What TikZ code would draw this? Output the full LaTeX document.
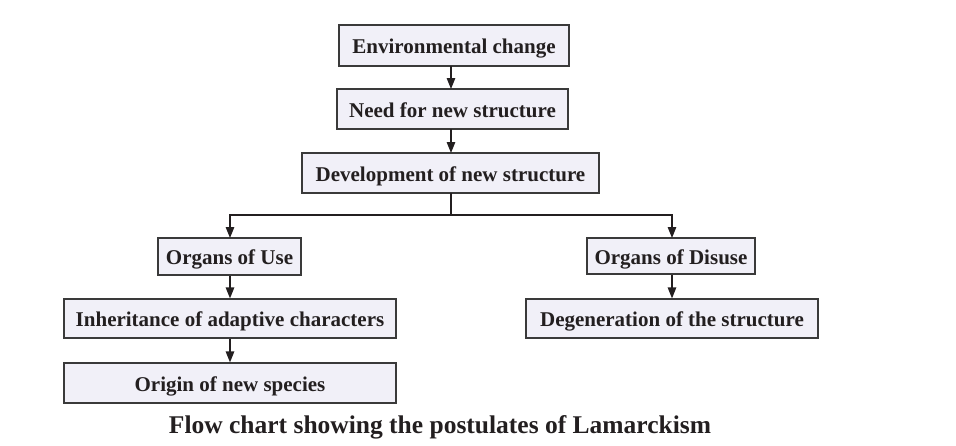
\documentclass[tikz,border=0pt]{standalone}
\usepackage{fontspec}
\setmainfont{Liberation Serif}
\usetikzlibrary{arrows.meta}
\definecolor{boxfill}{HTML}{F1F0F8}
\definecolor{boxdraw}{HTML}{3A3A3A}
\definecolor{txt}{HTML}{231F20}
\tikzset{
  box/.style={draw=boxdraw, fill=boxfill, line width=1.2pt, inner sep=0pt, text=txt,
    font=\fontsize{21}{24}\selectfont\bfseries, anchor=center, text height=16pt, text depth=0pt},
  arr/.style={draw=txt, line width=1.3pt, -{Triangle[length=11pt,width=8.5pt]}},
  ln/.style={draw=txt, line width=1.3pt}
}
\begin{document}
\begin{tikzpicture}[x=1pt,y=-1pt]
\useasboundingbox (0,0) rectangle (956,445);
\node[box, minimum width=230pt, minimum height=41pt] (env) at (454,45.5) {Environmental change};
\node[box, minimum width=231pt, minimum height=40pt] (need) at (452.5,109) {Need for new structure};
\node[box, minimum width=297pt, minimum height=40pt] (dev) at (450.5,173) {Development of new structure};
\node[box, minimum width=143pt, minimum height=37pt] (use) at (229.5,256.5) {Organs of Use};
\node[box, minimum width=332pt, minimum height=39pt] (inh) at (230,318.5) {Inheritance of adaptive characters};
\node[box, minimum width=332pt, minimum height=40pt] (ori) at (230,383) {Origin of new species};
\node[box, minimum width=168pt, minimum height=36pt] (dis) at (671,256) {Organs of Disuse};
\node[box, minimum width=292pt, minimum height=39pt] (deg) at (672,318.5) {Degeneration of the structure};
\node[text=txt, font=\fontsize{25.5}{28}\selectfont\bfseries] (cap) at (440,427) {Flow chart showing the postulates of Lamarckism};
\coordinate (j) at (451,215);
\draw[arr] (451,66) -- (451,89);
\draw[arr] (451,129) -- (451,153);
\draw[ln] (451,193) -- (j);
\draw[arr] (j) -| (230,238);
\draw[arr] (j) -| (672,238);
\draw[arr] (use.south -| 230,0) -- (inh.north -| 230,0);
\draw[arr] (inh.south -| 230,0) -- (ori.north -| 230,0);
\draw[arr] (dis.south -| 672,0) -- (deg.north -| 672,0);
\end{tikzpicture}
\end{document}
